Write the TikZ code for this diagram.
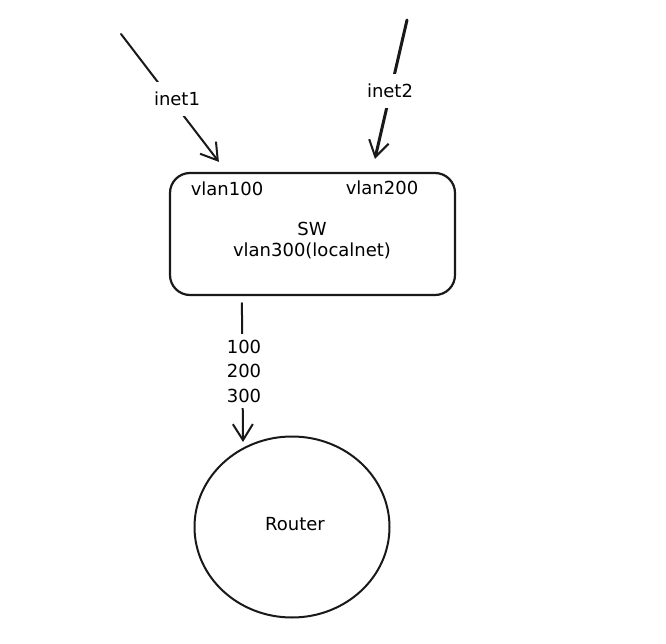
\documentclass[tikz,border=0pt]{standalone}
\usepackage{fontspec}
\setmainfont{DejaVu Sans}
\usetikzlibrary{arrows.meta,shapes.geometric,calc}
\begin{document}
\begin{tikzpicture}[x=1pt,y=-1pt,
  txt/.style={font=\fontsize{18}{21}\selectfont, inner sep=0pt, text=black},
  lab/.style={txt, fill=white, inner xsep=4pt, inner ysep=10pt},
  conn/.style={line width=2pt, line cap=round, draw=black!90,
     -{Straight Barb[length=16pt,width=20pt,line width=2pt]}},
  swbox/.style={draw=black!90, line width=2.2pt, rounded corners=20pt, minimum width=285pt, minimum height=122pt},
  rtr/.style={draw=black!90, line width=2pt, ellipse, minimum width=195pt, minimum height=181pt, inner sep=0pt}
]
\useasboundingbox (0,0) rectangle (666,644);
\fill[white] (0,0) rectangle (666,644);

\node[swbox] (sw) at (312.5,234) {};
\node[txt] (v100) at (227,189) {vlan100};
\node[txt] (v200) at (382,188) {vlan200};
\node[txt, align=center] (swl) at (312,241) {SW\\vlan300(localnet)};
\node[rtr] (router) at (292,527) {};
\node[txt] (rl) at (295,524) {Router};

\coordinate (s1) at (121,34);
\coordinate (s2) at (407,20);
\coordinate (t1) at ($(sw.north west)+(50,-10)$);
\coordinate (t2) at ($(sw.north west)+(206,-13)$);
\coordinate (s3) at ($(sw.south west)+(73,7)$);
\coordinate (t3) at (243,442);

\draw[conn] (s1) -- (t1);
\draw[conn, line width=3pt] (s2) -- (t2);
\draw[conn] (s3) -- (t3);

\node[lab] (l1) at (177,99) {inet1};
\node[lab] (l2) at (390,91) {inet2};
\node[lab, align=center, inner ysep=6pt, font=\fontsize{18}{24.5}\selectfont] (l3) at (244,371) {100\\200\\300};
\end{tikzpicture}
\end{document}
